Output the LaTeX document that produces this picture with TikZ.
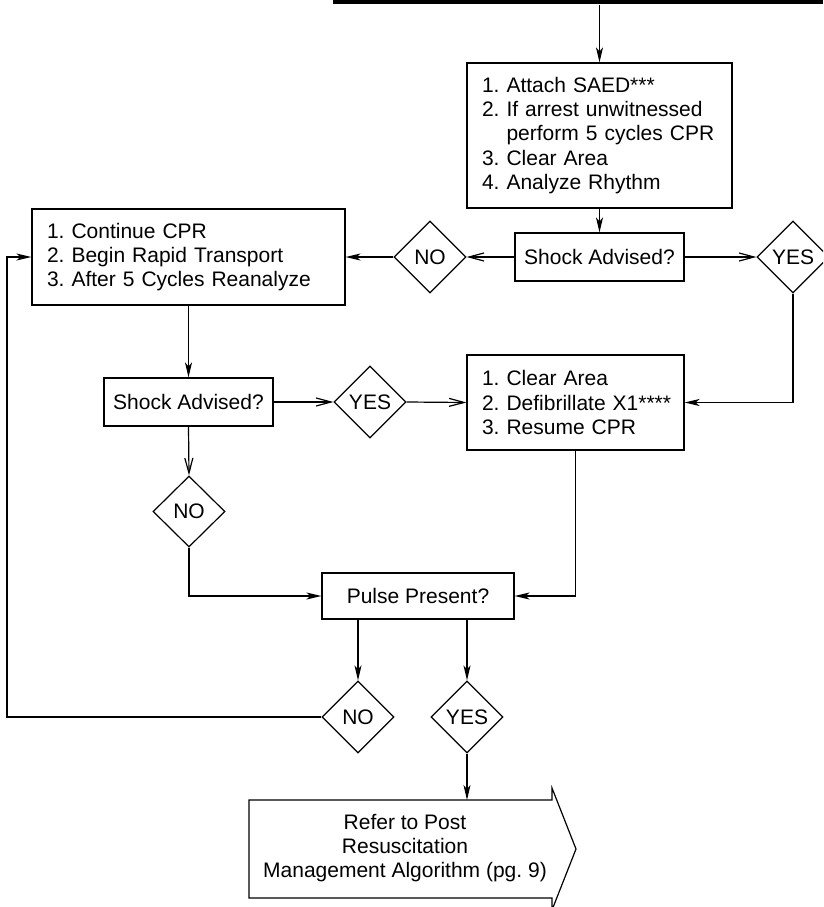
\documentclass[tikz,border=0pt]{standalone}
\usepackage{fontspec}
\setmainfont{Liberation Sans}
\usetikzlibrary{shapes.geometric,arrows.meta}
\begin{document}
\begin{tikzpicture}[x=1pt,y=-1pt,line width=1.2pt,
  every node/.style={font=\fontsize{21}{24.3}\selectfont\frenchspacing},
  box/.style={draw, rectangle, inner ysep=0pt, inner xsep=15pt, align=left},
  cbox/.style={draw, rectangle, inner sep=0pt, align=center},
  dia/.style={draw, diamond, minimum width=72pt, minimum height=72pt, inner sep=0pt},
  arr/.style={-{Stealth[length=15pt,width=7pt,inset=4pt]}},
  barb/.style={-{Straight Barb[length=15pt,width=8pt]}}]
\clip (0,0) rectangle (823,907);
\fill[white] (0,0) rectangle (823,907);
% top bar
\node[fill=black, minimum width=490pt, minimum height=4pt, inner sep=0pt] (bar) at (578,2) {};
% boxes
\node[box, minimum height=145pt, text width=235pt] (box1) at (599.5,135.5)
 {\mbox{1. Attach SAED***}\\\mbox{2. If arrest unwitnessed}\\\mbox{\phantom{2. }perform 5 cycles CPR}\\\mbox{3. Clear Area}\\\mbox{4. Analyze Rhythm}};
\node[cbox, minimum width=169pt, minimum height=48pt] (sa1) at (599.5,257) {Shock Advised?};
\node[dia] (no1) at (430,257) {NO};
\node[dia] (yes1) at (793,257) {YES};
\node[box, minimum height=96pt, text width=283pt] (cont) at (188.5,257)
 {\mbox{1. Continue CPR}\\\mbox{2. Begin Rapid Transport}\\\mbox{3. After 5 Cycles Reanalyze}};
\node[cbox, minimum width=169pt, minimum height=48pt] (sa2) at (188.5,402) {Shock Advised?};
\node[dia] (yes2) at (370,402) {YES};
\node[box, minimum height=95pt, text width=187pt] (box3) at (575.5,402.5)
 {\mbox{1. Clear Area}\\\mbox{2. Defibrillate X1****}\\\mbox{3. Resume CPR}};
\node[dia, minimum height=71pt] (no2) at (189,511.5) {NO};
\node[cbox, minimum width=192pt, minimum height=46pt] (pulse) at (418,596) {Pulse Present?};
\node[dia] (no3) at (358,717) {NO};
\node[dia] (yes3) at (467,717) {YES};
% final arrow shape
\draw (249,800) -- (552,800) -- (552,788) -- (576,849) -- (552,910) -- (552,898) -- (249,898) -- cycle;
\node[align=center] (ref) at (405,848) {Refer to Post\\Resuscitation\\Management Algorithm (pg. 9)};
\coordinate (reftop) at (467,800);
\coordinate (loopx) at (7,717);
% connectors
\draw[arr] (bar.south -| box1.north) -- (box1.north);
\draw[arr] (box1.south) -- (sa1.north);
\draw[barb] (sa1.west) -- (no1.east);
\draw[arr] (no1.west) -- (cont.east);
\draw[barb] (sa1.east) -- (yes1.west);
\draw[arr] (yes1.south) |- (box3.east);
\draw[arr] (cont.south) -- (sa2.north);
\draw[barb] (sa2.east) -- (yes2.west);
\draw[barb] (yes2.east) -- (box3.west);
\draw[barb] (sa2.south) -- (no2.north);
\draw[arr] (no2.south) |- (pulse.west);
\draw[arr] (box3.south) |- (pulse.east);
\draw[arr] (pulse.south -| no3.north) -- (no3.north);
\draw[arr] (pulse.south -| yes3.north) -- (yes3.north);
\draw[arr] (no3.west) -- (loopx) |- (cont.west);
\draw[arr] (yes3.south) -- (reftop);
\end{tikzpicture}
\end{document}
